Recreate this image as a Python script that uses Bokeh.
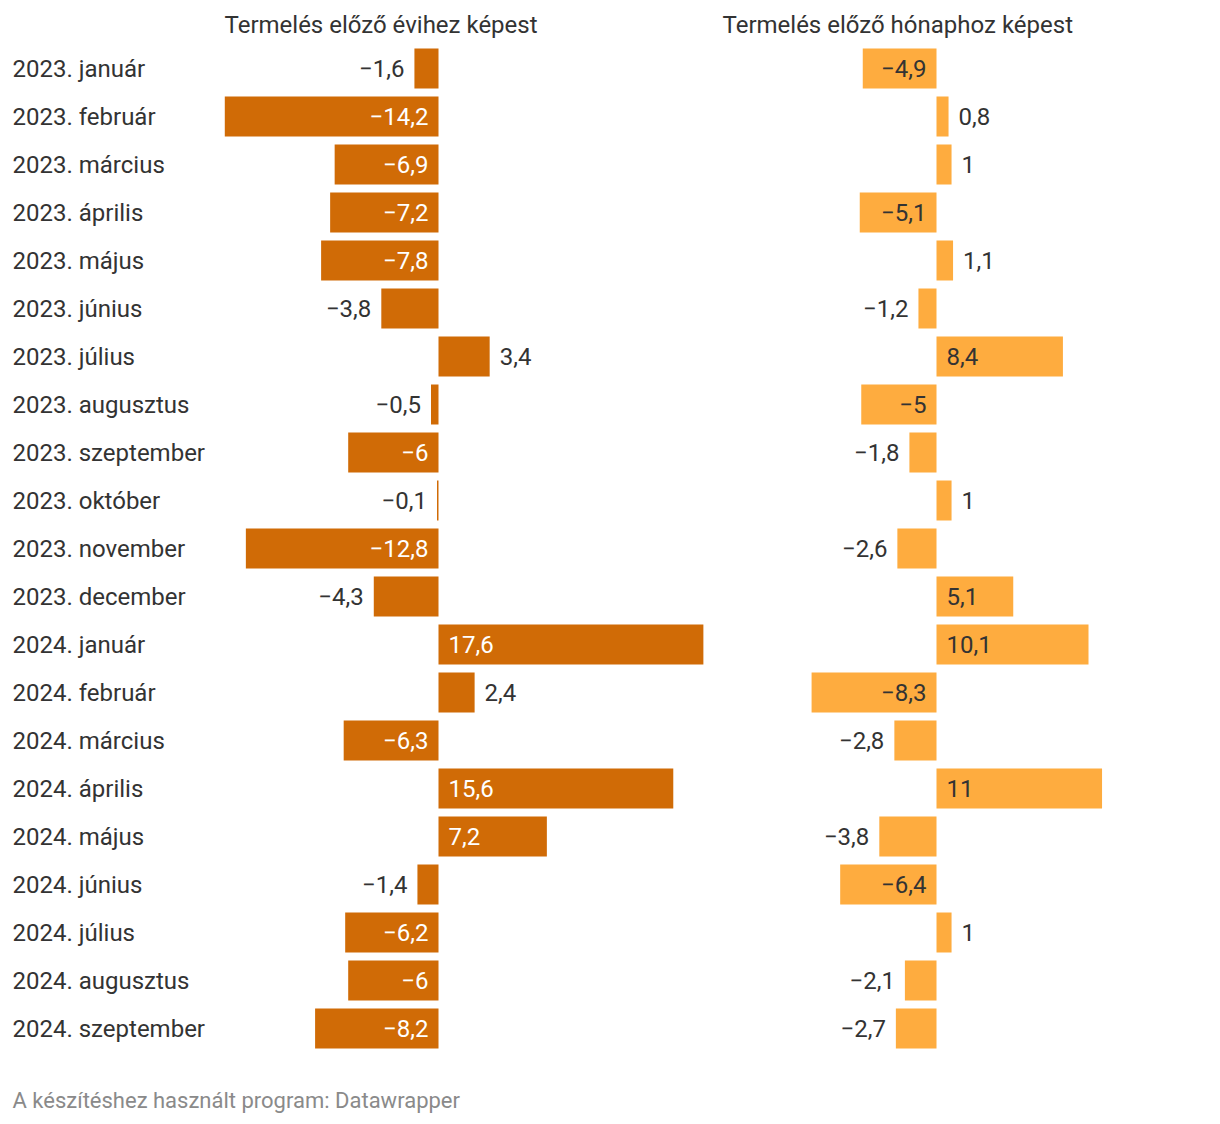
from bokeh.plotting import figure
from bokeh.models import ColumnDataSource, FactorRange, Range1d, Title
from bokeh.layouts import row, column
from bokeh.embed import file_html
from bokeh.resources import INLINE
from bokeh.core.properties import value

categories = [
    "2023. január", "2023. február", "2023. március", "2023. április", "2023. május",
    "2023. június", "2023. július", "2023. augusztus", "2023. szeptember", "2023. október",
    "2023. november", "2023. december", "2024. január", "2024. február", "2024. március",
    "2024. április", "2024. május", "2024. június", "2024. július", "2024. augusztus",
    "2024. szeptember",
]
yoy = [-1.6, -14.2, -6.9, -7.2, -7.8, -3.8, 3.4, -0.5, -6, -0.1, -12.8, -4.3,
       17.6, 2.4, -6.3, 15.6, 7.2, -1.4, -6.2, -6, -8.2]
mom = [-4.9, 0.8, 1, -5.1, 1.1, -1.2, 8.4, -5, -1.8, 1, -2.6, 5.1,
       10.1, -8.3, -2.8, 11, -3.8, -6.4, 1, -2.1, -2.7]

title_left = "Termelés előző évihez képest"
title_right = "Termelés előző hónaphoz képest"
footer_text = "A készítéshez használt program: Datawrapper"

FONT = "Roboto"
FS = "24px"
DARK = "#333333"
COLOR_A = "#d06b06"
COLOR_B = "#feac3f"

SCALE = 15.05          # pixels per unit
ZERO_A, WA = 438, 718  # zero position in fig A, width
ZERO_B, WB = 218, 494
TOP, BOTTOM = 44, 36
ROW_H = 48
H = TOP + BOTTOM + ROW_H * len(categories)
FOOT_H = 36
INSIDE_MIN = 4.5


def fmt(v):
    s = f"{abs(v):.1f}"
    if s.endswith(".0"):
        s = s[:-2]
    s = s.replace(".", ",")
    return ("\u2212" + s) if v < 0 else s


def make_fig(vals, color, zero, width, inside_color, title, title_offset):
    p = figure(width=width, height=H,
               x_range=Range1d(-zero / SCALE, (width - zero) / SCALE),
               y_range=FactorRange(factors=list(reversed(categories)), range_padding=0),
               output_backend="svg", toolbar_location=None,
               x_axis_location=None, y_axis_location=None,
               min_border_left=0, min_border_right=0,
               min_border_top=TOP, min_border_bottom=BOTTOM)
    p.grid.visible = False
    p.outline_line_color = None
    src = ColumnDataSource(dict(cat=categories, v=vals))
    p.hbar(y="cat", left=0, right="v", height=40 / 48, source=src,
           fill_color=color, line_color=None)

    groups = {"in_neg": [], "in_pos": [], "out_neg": [], "out_pos": []}
    for c, v in zip(categories, vals):
        inside = abs(v) >= INSIDE_MIN
        key = ("in_" if inside else "out_") + ("neg" if v < 0 else "pos")
        groups[key].append((c, v))
    for key, items in groups.items():
        if not items:
            continue
        cs = [c for c, _ in items]
        vs = [v for _, v in items]
        xs = [0] * len(vs) if key.startswith("in") else vs
        s = ColumnDataSource(dict(cat=cs, x=xs, t=[fmt(v) for v in vs]))
        neg = key.endswith("neg")
        p.text(x="x", y="cat", text="t", source=s,
               x_offset=-10 if neg else 10,
               text_align="right" if neg else "left",
               text_baseline="middle",
               text_font=value(FONT), text_font_size=FS,
               text_color=inside_color if key.startswith("in") else DARK)
    p.add_layout(Title(text=title, align="left", offset=title_offset,
                       text_font=FONT, text_font_size=FS, text_font_style="normal",
                       text_color=DARK, standoff=12), "above")
    return p


pa = make_fig(yoy, COLOR_A, ZERO_A, WA, "white", title_left, 224)
lab = ColumnDataSource(dict(cat=categories, x=[-ZERO_A / SCALE] * len(categories), t=categories))
pa.text(x="x", y="cat", text="t", source=lab, x_offset=12, text_align="left",
        text_baseline="middle", text_font=value(FONT), text_font_size=FS, text_color=DARK)

pb = make_fig(mom, COLOR_B, ZERO_B, WB, DARK, title_right, 4)

pf = figure(width=WA + WB, height=FOOT_H, x_range=Range1d(0, WA + WB), y_range=Range1d(0, FOOT_H),
            output_backend="svg", toolbar_location=None,
            x_axis_location=None, y_axis_location=None,
            min_border=0)
pf.grid.visible = False
pf.outline_line_color = None
pf.text(x=[0], y=[FOOT_H - 12], text=[footer_text], x_offset=12, text_align="left",
        text_baseline="middle", text_font=value(FONT), text_font_size="22px",
        text_color="#8a8a8a")

layout = column(row(pa, pb), pf)
open("out.html", "w").write(file_html(layout, INLINE))
